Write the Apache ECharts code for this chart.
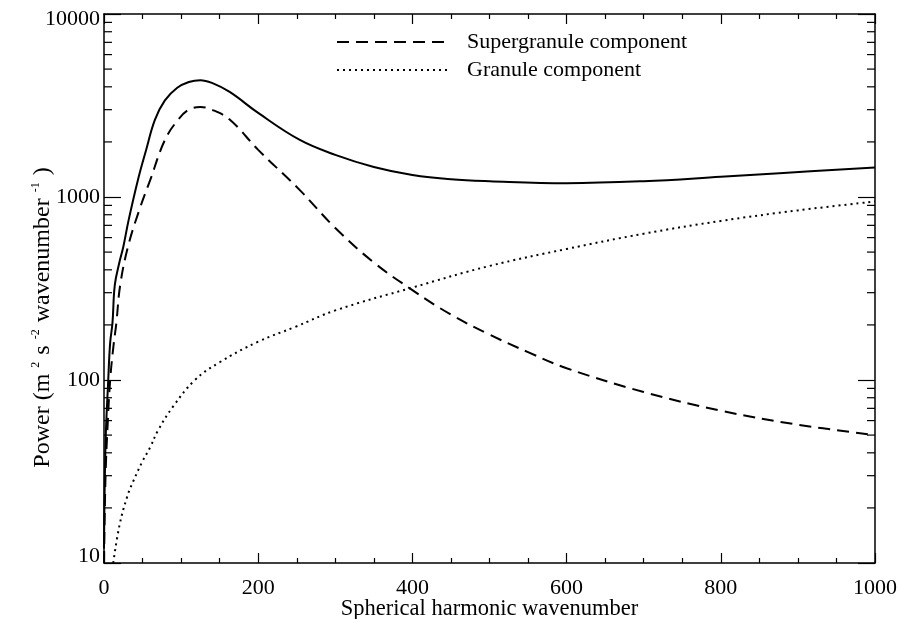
<!DOCTYPE html>
<html>
<head>
<meta charset="utf-8">
<script src="https://cdn.jsdelivr.net/npm/echarts@6/dist/echarts.min.js"></script>
<style>
  html, body { margin: 0; padding: 0; background: #fff; }
  #chart { width: 898px; height: 619px; }
</style>
</head>
<body>
<div id="chart"></div>
<script>
// Spherical harmonic power spectrum: total, supergranule and granule components

const totalWn  = [0, 2, 5.5, 8, 11, 14, 20, 25, 32, 44, 55, 66, 79, 95, 110, 125, 140, 163, 200, 254, 300, 350, 400, 450, 500, 600, 700, 800, 876, 1000];
const totalPow = [12, 45, 100, 160, 205, 330, 440, 533, 750, 1240, 1830, 2640, 3370, 3950, 4250, 4350, 4200, 3750, 2880, 2050, 1700, 1460, 1320, 1250, 1220, 1190, 1220, 1290, 1350, 1450];

const superWn  = [0, 2, 5, 8, 12, 16, 21, 31, 45, 60, 79, 96, 110, 125, 140, 163, 200, 254, 300, 349, 400, 449, 499, 550, 600, 700, 800, 900, 1000];
const superPow = [10, 30, 60, 100, 150, 205, 330, 533, 830, 1240, 2050, 2640, 3000, 3100, 3000, 2650, 1810, 1090, 677, 442, 310, 229, 178, 142, 116, 86, 68, 57, 50];

const granWn  = [12, 20, 30, 38, 50, 60, 70, 90, 118, 150, 200, 248, 300, 400, 500, 600, 700, 800, 900, 1000];
const granPow = [10, 16, 23, 28, 36, 43, 53, 72, 100, 125, 162, 195, 240, 320, 420, 520, 630, 740, 845, 945];

const xTicks = [0, 200, 400, 600, 800, 1000];
const yTicks = [10, 100, 1000, 10000];
// intermediate log ticks (2..9 in each decade)
const yMinorTicks = [20, 30, 40, 50, 60, 70, 80, 90,
                     200, 300, 400, 500, 600, 700, 800, 900,
                     2000, 3000, 4000, 5000, 6000, 7000, 8000, 9000];

const legendNames = ['Supergranule component', 'Granule component'];

const pairs = (xs, ys) => xs.map((x, i) => [x, ys[i]]);

const font = '"Liberation Serif", "DejaVu Serif", serif';
const black = '#000';

const chart = echarts.init(document.getElementById('chart'), null, { renderer: 'canvas' });

const axisLine = { show: true, onZero: false, lineStyle: { color: black, width: 1.5 } };

// y labels: lowest raised, highest lowered so they stay within the frame height
const yLabel = v => {
  const r = Math.round(v);
  if (r === yTicks[0]) return '{lo|' + r + '}';
  if (r === yTicks[yTicks.length - 1]) return '{hi|' + r + '}';
  return '{m|' + r + '}';
};

const option = {
  backgroundColor: '#fff',
  animation: false,
  textStyle: { fontFamily: font, color: black },
  grid: { left: 104, right: 23, top: 14, bottom: 56, containLabel: false, outerBoundsMode: 'none' },
  legend: {
    data: legendNames,
    orient: 'vertical',
    left: 336,
    top: 31,
    padding: 0,
    itemWidth: 111,
    itemHeight: 22,
    itemGap: 6,
    itemStyle: { opacity: 0, borderWidth: 0 },
    textStyle: { fontFamily: font, fontSize: 22, color: black, padding: [0, 0, 0, 14] },
    selectedMode: false
  },
  xAxis: [
    {
      type: 'value', min: 0, max: 1000, interval: 200,
      position: 'bottom',
      axisLine,
      axisTick: { show: true, inside: true, length: 10, lineStyle: { color: black, width: 1.2 } },
      minorTick: { show: true, splitNumber: 4, length: 5, lineStyle: { color: black, width: 1.2 } },
      splitLine: { show: false },
      axisLabel: { fontFamily: font, fontSize: 22, color: black, margin: 14,
                   formatter: v => String(Math.round(v)) },
      name: 'Spherical harmonic wavenumber',
      nameLocation: 'middle',
      nameGap: 35,
      nameMoveOverlap: false,
      nameTextStyle: { fontFamily: font, fontSize: 22.5, color: black }
    },
    {
      type: 'value', min: 0, max: 1000, interval: 200,
      position: 'top',
      axisLine,
      axisTick: { show: true, inside: true, length: 10, lineStyle: { color: black, width: 1.2 } },
      minorTick: { show: true, splitNumber: 4, length: 5, lineStyle: { color: black, width: 1.2 } },
      splitLine: { show: false },
      axisLabel: { show: false }
    }
  ],
  yAxis: [
    {
      type: 'log', logBase: 10, min: 10, max: 10000,
      position: 'left',
      axisLine,
      axisTick: { show: true, inside: true, length: 17, lineStyle: { color: black, width: 1.2 } },
      splitLine: { show: false },
      axisLabel: {
        margin: 4,
        formatter: yLabel,
        rich: {
          m:  { fontFamily: font, fontSize: 22, color: black },
          lo: { fontFamily: font, fontSize: 22, color: black, padding: [0, 0, 14, 0] },
          hi: { fontFamily: font, fontSize: 22, color: black, padding: [11, 0, 0, 0] }
        }
      },
      name: '{n|Power (m}{s|2}{n|s}{s|-2}{n|wavenumber}{s|-1}{n|)}',
      nameLocation: 'middle',
      nameRotate: 90,
      nameGap: 48,
      nameMoveOverlap: false,
      nameTextStyle: {
        padding: [0, 58, 0, 0],
        rich: {
          n: { fontFamily: font, fontSize: 24, color: black, lineHeight: 26 },
          s: { fontFamily: font, fontSize: 12, color: black, verticalAlign: 'top', lineHeight: 26,
               padding: [0, 7, 0, 6] }
        }
      }
    },
    {
      type: 'log', logBase: 10, min: 10, max: 10000,
      position: 'right',
      axisLine,
      axisTick: { show: true, inside: true, length: 17, lineStyle: { color: black, width: 1.2 } },
      splitLine: { show: false },
      axisLabel: { show: false }
    }
  ],
  series: [
    {
      name: 'Total',
      type: 'line',
      data: pairs(totalWn, totalPow),
      showSymbol: false,
      symbol: 'none',
      smooth: 0.4,
      lineStyle: { color: black, width: 2, type: 'solid' },
      z: 3
    },
    {
      name: legendNames[0],
      type: 'line',
      data: pairs(superWn, superPow),
      showSymbol: false,
      symbol: 'none',
      smooth: 0.4,
      itemStyle: { color: black },
      lineStyle: { color: black, width: 2, type: [12, 7] },
      z: 3
    },
    {
      name: legendNames[1],
      type: 'line',
      data: pairs(granWn, granPow),
      showSymbol: false,
      symbol: 'none',
      smooth: 0.4,
      itemStyle: { color: black },
      lineStyle: { color: black, width: 2, type: [2, 4] },
      z: 3
    },
    {
      // intermediate log ticks on the left and right frame
      name: 'minorTicks',
      type: 'custom',
      silent: true,
      clip: false,
      data: yMinorTicks.map(v => [0, v]),
      renderItem: (params, api) => {
        const v = api.value(1);
        const l = api.coord([0, v]);
        const r = api.coord([1000, v]);
        const st = { stroke: black, lineWidth: 1.2 };
        return {
          type: 'group',
          children: [
            { type: 'line', shape: { x1: l[0], y1: l[1], x2: l[0] + 8, y2: l[1] }, style: st },
            { type: 'line', shape: { x1: r[0], y1: r[1], x2: r[0] - 8, y2: r[1] }, style: st }
          ]
        };
      },
      z: 2
    }
  ]
};

chart.setOption(option);
</script>
</body>
</html>
